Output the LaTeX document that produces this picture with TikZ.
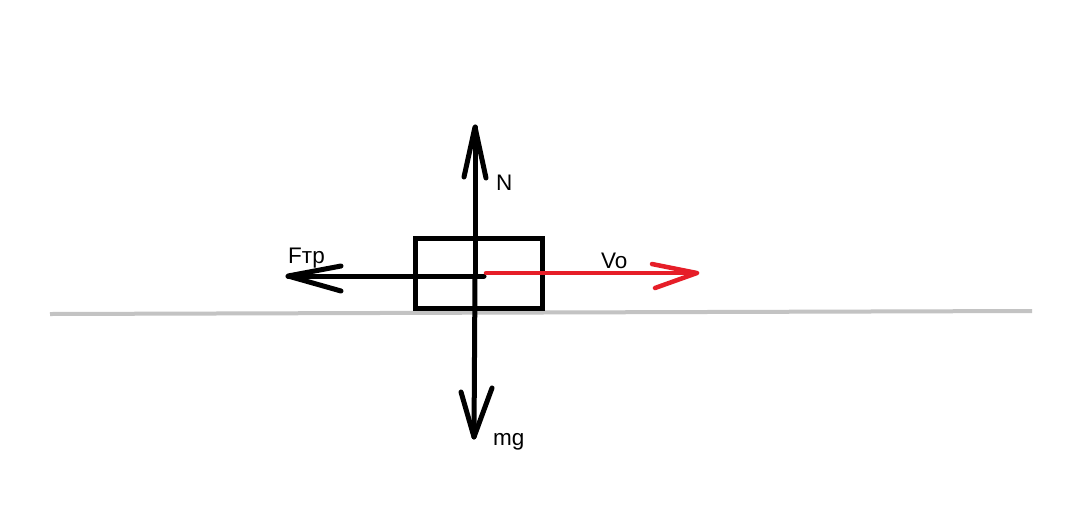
\documentclass[tikz,border=0pt]{standalone}
\usepackage{fontspec}
\setmainfont{Liberation Sans}
\begin{document}
\begin{tikzpicture}[x=1pt,y=-1pt,
  stroke/.style={line width=5pt,line cap=round,line join=round},
  vstroke/.style={line width=4.5pt,line cap=round,line join=round,color=vred},
  ground/.style={line width=4pt,color=groundgray},
  lbl/.style={font=\fontsize{22.5}{26}\selectfont,inner sep=0pt,anchor=base west}]
\definecolor{groundgray}{RGB}{195,195,195}
\definecolor{vred}{RGB}{230,30,40}
\useasboundingbox[fill=white] (0,0) rectangle (1084,531);
% coordinates
\coordinate (gl) at (50,314);
\coordinate (gr) at (1032,311);
\coordinate (c) at (475,276);
\coordinate (cend) at (484,276);
\coordinate (ntip) at (475,127);
\coordinate (nb1) at (464,177);
\coordinate (nb2) at (486,178);
\coordinate (mtip) at (474,437);
\coordinate (mb1) at (461,392);
\coordinate (mb2) at (492,388);
\coordinate (ftip) at (288,276);
\coordinate (fb1) at (341,266);
\coordinate (fb2) at (341,291);
\coordinate (vs) at (486,273);
\coordinate (vtip) at (697,273);
\coordinate (vb1) at (652,264);
\coordinate (vb2) at (655,288);
% ground
\draw[ground] (gl) -- (gr);
% block
\node[draw,line width=5pt,minimum width=127pt,minimum height=70pt,inner sep=0pt] (box) at (479,273.5) {};
% N and mg
\draw[stroke] (c) -- (ntip);
\draw[stroke] (nb1) -- (ntip) -- (nb2);
\draw[stroke] (c) -- (mtip);
\draw[stroke] (mb1) -- (mtip) -- (mb2);
% friction
\draw[stroke] (cend) -- (ftip);
\draw[stroke] (fb1) -- (ftip) -- (fb2);
% velocity
\draw[vstroke] (vs) -- (vtip);
\draw[vstroke] (vb1) -- (vtip) -- (vb2);
% labels
\node[lbl] (lN) at (496,190) {N};
\node[lbl] (lF) at (288,263) {Fтр};
\node[lbl] (lV) at (601,268) {Vo};
\node[lbl] (lM) at (493,445) {mg};
\end{tikzpicture}
\end{document}
